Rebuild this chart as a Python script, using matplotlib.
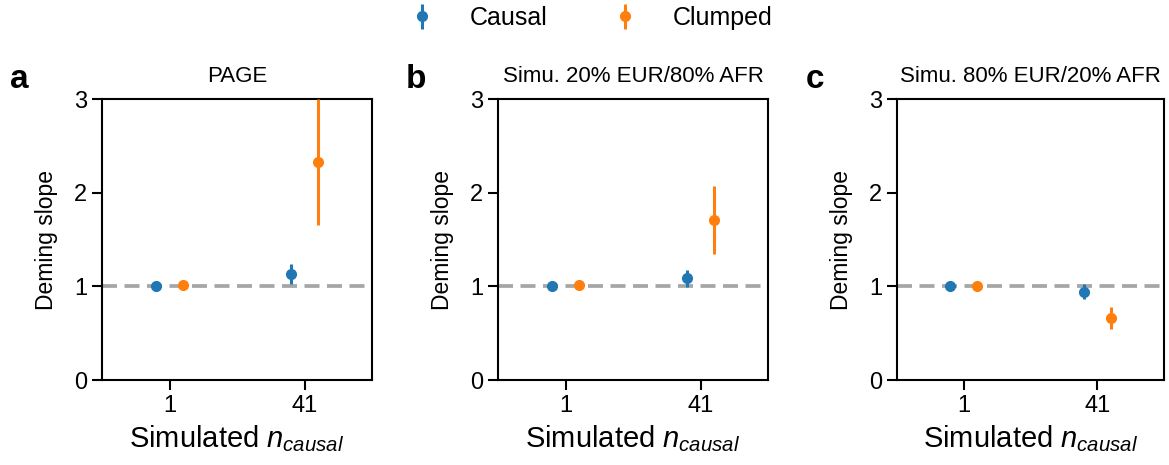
import numpy as np
import matplotlib.pyplot as plt

plt.rcParams['font.family'] = ['Liberation Sans', 'DejaVu Sans']
plt.rcParams['mathtext.fontset'] = 'custom'
plt.rcParams['mathtext.it'] = 'Liberation Sans:italic'
plt.rcParams['mathtext.rm'] = 'Liberation Sans'

## data ##
n_causal = ["1", "41"]
titles = ["PAGE", "Simu. 20% EUR/80% AFR", "Simu. 80% EUR/20% AFR"]
letters = ["a", "b", "c"]

causal_mean = [[1.00, 1.13], [1.00, 1.085], [1.00, 0.94]]
causal_err = [[0.02, 0.11], [0.02, 0.09], [0.02, 0.08]]
clumped_mean = [[1.01, 2.33], [1.01, 1.71], [1.00, 0.66]]
clumped_err = [[0.02, 0.67], [0.02, 0.36], [0.02, 0.12]]

blue = "#1f77b4"
orange = "#ff7f0e"

fig = plt.figure(figsize=(11.69, 4.65), dpi=100)
lefts = [102, 498, 897]
widths = [270, 270, 267]
W, H = 1169, 465
axes = []
for i in range(3):
    ax = fig.add_axes([lefts[i] / W, (H - 380) / H, widths[i] / W, 281 / H])
    axes.append(ax)
    x = np.arange(len(n_causal))
    ax.axhline(1, color="#a6a6a6", lw=2.7, ls=(0, (4, 2)), zorder=1)
    ax.errorbar(x - 0.1, causal_mean[i], yerr=causal_err[i], fmt="o",
                color=blue, ms=7, elinewidth=2.2, zorder=3)
    ax.errorbar(x + 0.1, clumped_mean[i], yerr=clumped_err[i], fmt="o",
                color=orange, ms=7, elinewidth=2.2, zorder=3)
    ax.set_xlim(-0.5, 1.5)
    ax.set_ylim(0, 3)
    ax.set_xticks(x)
    ax.set_xticklabels(n_causal)
    ax.set_yticks([0, 1, 2, 3])
    ax.tick_params(labelsize=17, width=1.5, length=7)
    for s in ax.spines.values():
        s.set_linewidth(1.5)
    ax.set_ylabel("Deming slope", fontsize=16.5, labelpad=12)
    ax.set_xlabel(r"Simulated $n_{causal}$", fontsize=21, labelpad=5)
    ax.set_title(titles[i], fontsize=16, pad=12)
    ax.text(-0.34, 1.04, letters[i], transform=ax.transAxes,
            fontsize=24, fontweight="bold", va="baseline")

hc = [axes[0].errorbar([], [], yerr=[], fmt="o", color=blue, ms=7, elinewidth=2.2),
      axes[0].errorbar([], [], yerr=[], fmt="o", color=orange, ms=7, elinewidth=2.2)]
fig.legend(hc, ["Causal", "Clumped"], loc="upper center", ncol=2,
           bbox_to_anchor=(0.5, 1.035), frameon=False, fontsize=18,
           handletextpad=0.9, columnspacing=2.1)

fig.savefig("out.png", dpi=100)
